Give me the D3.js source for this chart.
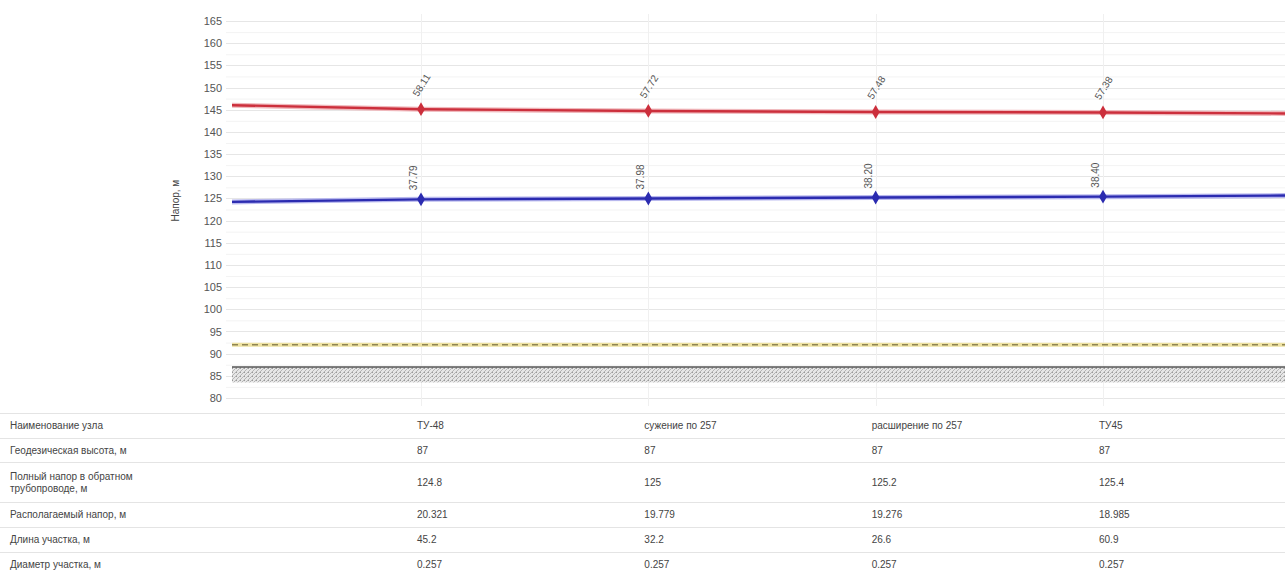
<!DOCTYPE html>
<html>
<head>
<meta charset="utf-8">
<script src="https://cdn.jsdelivr.net/npm/d3@7"></script>
<style>
  html, body { margin: 0; padding: 0; background: #fff; }
  svg { display: block; }
  text { font-family: "Liberation Sans", Arial, sans-serif; }
</style>
</head>
<body>
<svg id="chart" width="1285" height="578"></svg>
<script>
// Node positions along the route (index); -1 and 4 are the neighbouring nodes outside the view
const nodeIndex = [-1, 0, 1, 2, 3, 4];
// Supply-line piezometric head, m
const supplyHead = [146.2, 145.11, 144.72, 144.48, 144.38, 144.1];
// Return-line piezometric head, m
const returnHead = [124.1, 124.79, 124.98, 125.2, 125.4, 125.7];
// Nodes that are shown with markers and labels
const shownNodes = [0, 1, 2, 3];
// Ground elevation and static head levels, m
const groundLevel = 87;
const groundBottom = 83.5;
const staticHead = 92;
// Y axis ticks
const yTicks = [80, 85, 90, 95, 100, 105, 110, 115, 120, 125, 130, 135, 140, 145, 150, 155, 160, 165];

// Table below the chart
const rowTitles = [
  ["Наименование узла"],
  ["Геодезическая высота, м"],
  ["Полный напор в обратном", "трубопроводе, м"],
  ["Располагаемый напор, м"],
  ["Длина участка, м"],
  ["Диаметр участка, м"]
];
const nodeNames = ["ТУ-48", "сужение по 257", "расширение по 257", "ТУ45"];
const nodeElevation = ["87", "87", "87", "87"];
const nodeReturnHead = ["124.8", "125", "125.2", "125.4"];
const nodeAvailableHead = ["20.321", "19.779", "19.276", "18.985"];
const sectionLength = ["45.2", "32.2", "26.6", "60.9"];
const sectionDiameter = ["0.257", "0.257", "0.257", "0.257"];

const svg = d3.select("#chart");
const W = 1285;
const plot = { left: 232, right: 1285, top: 12, bottom: 406 };

const x = d3.scaleLinear().domain([0, 3]).range([421, 1103]);
const y = d3.scaleLinear().domain([80, 165]).range([398, 21]);

const defs = svg.append("defs");
defs.append("clipPath").attr("id", "plotClip")
  .append("rect")
  .attr("x", plot.left).attr("y", plot.top)
  .attr("width", plot.right - plot.left).attr("height", plot.bottom - plot.top);

// Fine cross-hatch for the ground band
const hatch = defs.append("pattern")
  .attr("id", "hatch").attr("patternUnits", "userSpaceOnUse")
  .attr("width", 4).attr("height", 4);
hatch.append("rect").attr("width", 4).attr("height", 4).attr("fill", "#e6e6e6");
hatch.append("path").attr("d", "M0,4 L4,0 M-1,1 L1,-1 M3,5 L5,3")
  .attr("stroke", "#a8a8a8").attr("stroke-width", 0.8);
hatch.append("rect").attr("x", 0).attr("y", 0).attr("width", 1).attr("height", 1).attr("fill", "#9a9a9a");

// Grid
const minorTicks = d3.range(80, 165, 2.5).filter(v => v % 5 !== 0);
svg.append("g").selectAll("line").data(minorTicks).join("line")
  .attr("x1", 226).attr("x2", W)
  .attr("y1", d => y(d) + 0.5).attr("y2", d => y(d) + 0.5)
  .attr("stroke", "#f3f3f3");
svg.append("g").selectAll("line").data(yTicks).join("line")
  .attr("x1", 226).attr("x2", W)
  .attr("y1", d => Math.round(y(d)) + 0.5).attr("y2", d => Math.round(y(d)) + 0.5)
  .attr("stroke", "#e6e6e6");

// Vertical guides through nodes
svg.append("g").selectAll("line").data(shownNodes).join("line")
  .attr("x1", d => Math.round(x(d)) + 0.5).attr("x2", d => Math.round(x(d)) + 0.5)
  .attr("y1", 14).attr("y2", plot.bottom)
  .attr("stroke", "#f0f0f0");

// Y axis labels
const yAxis = d3.axisLeft(y).tickValues(yTicks).tickSize(0).tickPadding(0);
const gy = svg.append("g").attr("transform", "translate(222,0)").call(yAxis);
gy.select(".domain").remove();
gy.selectAll("text")
  .attr("font-size", 11).attr("fill", "#555")
  .attr("font-family", "'Liberation Sans', Arial, sans-serif");

svg.append("text")
  .attr("transform", `translate(179,${y(124.5)}) rotate(-90)`)
  .attr("text-anchor", "middle")
  .attr("font-size", 10).attr("fill", "#444")
  .text("Напор, м");

const area = svg.append("g").attr("clip-path", "url(#plotClip)");

// Ground band
area.append("rect")
  .attr("x", plot.left).attr("width", plot.right - plot.left)
  .attr("y", y(groundLevel)).attr("height", y(groundBottom) - y(groundLevel))
  .attr("fill", "url(#hatch)");
area.append("line")
  .attr("x1", plot.left).attr("x2", plot.right)
  .attr("y1", y(groundLevel)).attr("y2", y(groundLevel))
  .attr("stroke", "#555").attr("stroke-width", 1.5);

// Static head line
area.append("line")
  .attr("x1", plot.left).attr("x2", plot.right)
  .attr("y1", y(staticHead)).attr("y2", y(staticHead))
  .attr("stroke", "#eee2a2").attr("stroke-width", 4);
area.append("line")
  .attr("x1", plot.left).attr("x2", plot.right)
  .attr("y1", y(staticHead)).attr("y2", y(staticHead))
  .attr("stroke", "#8f8552").attr("stroke-width", 1.4)
  .attr("stroke-dasharray", "6,4");

// Head lines
const line = d3.line().x(d => x(d[0])).y(d => y(d[1]));
const series = [
  { values: supplyHead, color: "#cc2f3c", halo: "#f0b8bc", rotate: -58 },
  { values: returnHead, color: "#2b2bb0", halo: "#b8b8ee", rotate: -90 }
];
series.forEach(s => {
  const pts = nodeIndex.map((n, i) => [n, s.values[i]]);
  area.append("path").datum(pts).attr("d", line)
    .attr("fill", "none").attr("stroke", s.halo).attr("stroke-width", 5);
  area.append("path").datum(pts).attr("d", line)
    .attr("fill", "none").attr("stroke", s.color).attr("stroke-width", 2.4);
  const marks = shownNodes.map(n => [n, s.values[nodeIndex.indexOf(n)]]);
  area.append("g").selectAll("path").data(marks).join("path")
    .attr("transform", d => `translate(${x(d[0])},${y(d[1])})`)
    .attr("d", d3.symbol(d3.symbolDiamond, 55))
    .attr("fill", s.color);
  svg.append("g").selectAll("text").data(marks).join("text")
    .attr("transform", d => s.rotate === -90
      ? `translate(${x(d[0]) - 4},${y(d[1]) - 9}) rotate(-90)`
      : `translate(${x(d[0]) - 3},${y(d[1]) - 12}) rotate(${s.rotate})`)
    .attr("font-size", 10).attr("fill", "#555")
    .text(d => d3.format(".2f")(d[1] - groundLevel));
});

// Table
const rowBounds = [413, 438, 462, 502, 527, 552, 577];
svg.append("g").selectAll("line").data(rowBounds.slice(0, -1)).join("line")
  .attr("x1", 0).attr("x2", W)
  .attr("y1", d => d + 0.5).attr("y2", d => d + 0.5)
  .attr("stroke", "#e4e4e4");

const rowValues = [nodeNames, nodeElevation, nodeReturnHead, nodeAvailableHead, sectionLength, sectionDiameter];
rowTitles.forEach((lines, r) => {
  const top = rowBounds[r], bottom = rowBounds[r + 1];
  const mid = (top + bottom) / 2;
  const lh = 12;
  lines.forEach((t, k) => {
    svg.append("text")
      .attr("x", 10)
      .attr("y", mid + (k - (lines.length - 1) / 2) * lh)
      .attr("dy", "0.35em")
      .attr("font-size", 10).attr("fill", "#444")
      .text(t);
  });
  svg.append("g").selectAll("text").data(rowValues[r]).join("text")
    .attr("x", (d, i) => x(shownNodes[i]) - 4)
    .attr("y", mid).attr("dy", "0.35em")
    .attr("font-size", 10).attr("fill", "#444")
    .text(d => d);
});
</script>
</body>
</html>
